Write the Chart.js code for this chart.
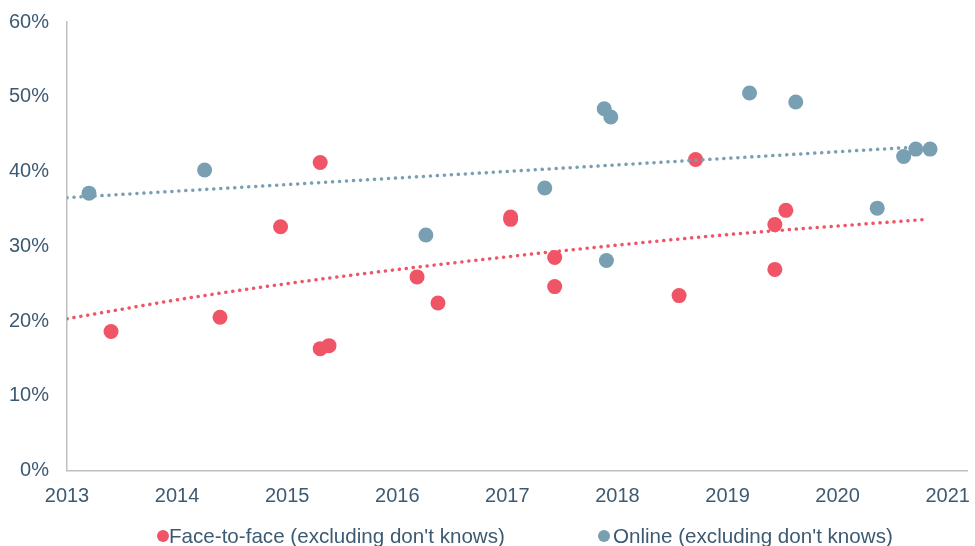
<!DOCTYPE html>
<html>
<head>
<meta charset="utf-8">
<script src="https://cdn.jsdelivr.net/npm/chart.js@4/dist/chart.umd.min.js"></script>
<style>
  body { margin: 0; background: #fff; }
  #wrap { position: relative; width: 975px; height: 546px; overflow: hidden; }
  #legend .item { position: absolute; font: 20.6px "Liberation Sans", Arial, sans-serif; line-height: 20px; color: #3d5a73; white-space: nowrap; }
  #legend .dot { position: absolute; width: 12px; height: 12px; border-radius: 50%; }
</style>
</head>
<body>
<div id="wrap">
  <canvas id="chart" width="975" height="546"></canvas>
  <div id="legend"></div>
</div>
<script>
// survey dates as decimal years, shares in %
var faceX = [2013.40, 2014.39, 2014.94, 2015.30, 2015.30, 2015.38, 2016.18, 2016.37, 2017.03, 2017.03, 2017.43, 2017.43, 2018.56, 2018.71, 2019.43, 2019.53, 2019.43];
var faceY = [18.6, 20.5, 32.6, 41.2, 16.3, 16.7, 25.9, 22.4, 33.9, 33.6, 28.5, 24.6, 23.4, 41.6, 32.9, 34.8, 26.9];

var onlineX = [2013.20, 2014.25, 2016.26, 2017.34, 2017.88, 2017.94, 2017.90, 2019.20, 2019.62, 2020.36, 2020.60, 2020.71, 2020.84];
var onlineY = [37.1, 40.2, 31.5, 37.8, 48.4, 47.3, 28.1, 50.5, 49.3, 35.1, 42.0, 43.0, 43.0];

// trend lines
var faceTrendX = [2013.0, 2014.2, 2015.84, 2018.73, 2020.8];
var faceTrendY = [20.3, 23.3, 26.6, 31.2, 33.6];
var onlineTrendX = [2013.0, 2020.75];
var onlineTrendY = [36.5, 43.3];

var years = [2013, 2014, 2015, 2016, 2017, 2018, 2019, 2020, 2021];
var yTicks = [0, 10, 20, 30, 40, 50, 60];
var seriesNames = ["Face-to-face (excluding don't knows)", "Online (excluding don't knows)"];

var red = "#ef5567";
var blue = "#78a0b2";
var textColor = "#3d5a73";
var axisColor = "#bfbfbf";

function pts(xs, ys) {
  return xs.map(function (x, i) { return { x: x, y: ys[i] }; });
}

function trend(xs, ys, color) {
  return {
    type: "line",
    data: pts(xs, ys),
    borderColor: color,
    borderWidth: 3.5,
    borderDash: [0.1, 6.9],
    borderCapStyle: "round",
    pointRadius: 0,
    cubicInterpolationMode: "monotone",
    fill: false,
    order: 0
  };
}

// no extra room for overhanging labels, the layout padding handles it
function noLabelPadding(s) {
  s.paddingLeft = 0;
  s.paddingRight = 0;
  s.paddingTop = 0;
  s.paddingBottom = 0;
}

var font = { family: "'Liberation Sans', Arial, sans-serif", size: 20 };

new Chart(document.getElementById("chart"), {
  type: "scatter",
  data: {
    datasets: [
      { label: seriesNames[0], data: pts(faceX, faceY), backgroundColor: red, borderWidth: 0, pointRadius: 7.5, pointHoverRadius: 7.5, order: 2 },
      { label: seriesNames[1], data: pts(onlineX, onlineY), backgroundColor: blue, borderWidth: 0, pointRadius: 7.5, pointHoverRadius: 7.5, order: 1 },
      trend(faceTrendX, faceTrendY, red),
      trend(onlineTrendX, onlineTrendY, blue)
    ]
  },
  options: {
    responsive: false,
    animation: false,
    layout: { padding: { top: 22, right: 5, left: 0, bottom: 0 } },
    plugins: { legend: { display: false }, tooltip: { enabled: false } },
    scales: {
      x: {
        type: "linear",
        min: 2013,
        max: 2021.18,
        grid: { display: false, drawTicks: false },
        border: { display: true, color: axisColor, width: 1.5 },
        ticks: { font: font, color: textColor, padding: 14, maxRotation: 0, callback: function (v) { return String(v); } },
        afterBuildTicks: function (s) { s.ticks = years.map(function (v) { return { value: v }; }); },
        afterFit: function (s) { s.height = 75.5; noLabelPadding(s); }
      },
      y: {
        min: 0,
        max: 60,
        grid: { display: false, drawTicks: false },
        border: { display: true, color: axisColor, width: 1.5 },
        ticks: { font: font, color: textColor, padding: 18, callback: function (v) { return v + "%"; } },
        afterBuildTicks: function (s) { s.ticks = yTicks.map(function (v) { return { value: v }; }); },
        afterFit: function (s) { s.width = 67; noLabelPadding(s); }
      }
    }
  }
});

// legend below the axis
var legend = document.getElementById("legend");
var legendPos = [{ dot: 157, text: 169 }, { dot: 598, text: 613 }];
var legendColors = [red, blue];
for (var i = 0; i < seriesNames.length; i++) {
  legend.insertAdjacentHTML("beforeend",
    `<div class="dot" style="left:${legendPos[i].dot}px;top:529.5px;background:${legendColors[i]}"></div>
     <div class="item" style="left:${legendPos[i].text}px;top:526px">${seriesNames[i]}</div>`);
}
</script>
</body>
</html>
